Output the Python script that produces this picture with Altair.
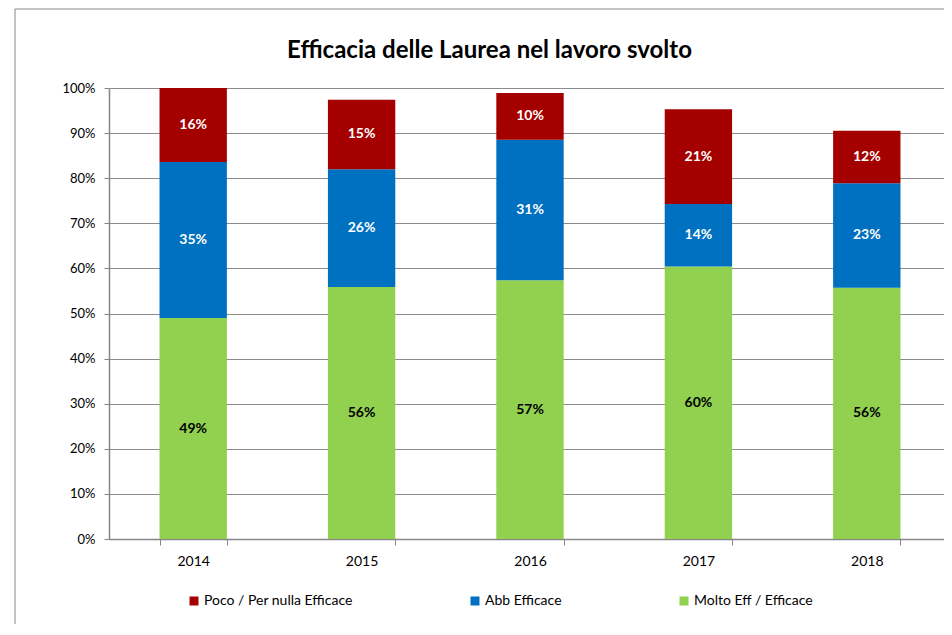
import altair as alt
import pandas as pd

years = ["2014", "2015", "2016", "2017", "2018"]
molto = [49.0, 55.9, 57.4, 60.4, 55.7]
abb = [34.6, 26.1, 31.1, 13.9, 23.2]
poco = [16.4, 15.4, 10.4, 21.0, 11.6]

series_names = ["Poco / Per nulla Efficace", "Abb Efficace", "Molto Eff / Efficace"]
series_colors = ["#A50000", "#0070C0", "#92D050"]

rows = []
for i, y in enumerate(years):
    for order, (name, vals) in enumerate(
        [("Molto Eff / Efficace", molto), ("Abb Efficace", abb), ("Poco / Per nulla Efficace", poco)]
    ):
        rows.append({"year": y, "series": name, "value": vals[i], "ord": order})
df = pd.DataFrame(rows)

FONT = "Lato"

base = (
    alt.Chart(df)
    .transform_stack(stack="value", groupby=["year"], sort=[alt.SortField("ord")], as_=["v0", "v1"])
    .transform_calculate(mid="(datum.v0 + datum.v1) / 2", label="round(datum.value) + '%'")
)

x_scale = alt.Scale(paddingInner=0.6, paddingOuter=0.3, range=[0, 842])

x_enc = alt.X(
    "year:N",
    title=None,
    sort=years,
    scale=x_scale,
    axis=alt.Axis(
        labelAngle=0, tickBand="extent", ticks=True, tickSize=6, tickColor="#868686",
        domainColor="#868686", domainWidth=1.5, labelFontSize=14, labelFont=FONT,
        labelPadding=9, labelColor="#000000", grid=False,
    ),
)

bars = base.mark_bar().encode(
    x=x_enc,
    y=alt.Y(
        "v0:Q",
        title=None,
        scale=alt.Scale(domain=[0, 100], nice=False),
        axis=alt.Axis(
            values=list(range(0, 101, 10)), labelExpr="datum.value + '%'",
            gridColor="#8c8c8c", gridWidth=1, domainColor="#868686", domainWidth=1.5,
            tickColor="#868686", tickSize=5, labelFontSize=13, labelFont=FONT,
            labelPadding=9, labelColor="#000000",
        ),
    ),
    y2="v1:Q",
    color=alt.Color(
        "series:N",
        scale=alt.Scale(domain=series_names, range=series_colors),
        legend=alt.Legend(
            title=None, orient="none", direction="horizontal", columns=3,
            legendX=78, legendY=506, symbolType="square", symbolSize=81,
            symbolStrokeWidth=0, labelFontSize=14, labelFont=FONT, columnPadding=115,
            labelOffset=3, padding=0, labelColor="#000000",
        ),
    ),
)

labels = base.mark_text(fontWeight="bold", fontSize=14, font=FONT).encode(
    x=alt.X("year:N", sort=years),
    y=alt.Y("mid:Q"),
    text="label:N",
    color=alt.condition(
        alt.datum.series == "Molto Eff / Efficace", alt.value("#000000"), alt.value("#FFFFFF")
    ),
)

frame = (
    alt.Chart(pd.DataFrame({"a": [0]}))
    .mark_rect(filled=False, stroke="#888888", strokeWidth=1)
    .encode(x=alt.value(-94), x2=alt.value(860), y=alt.value(-79), y2=alt.value(560))
)

chart = (
    alt.layer(frame, bars, labels)
    .properties(
        width=835,
        height=451,
        autosize=alt.AutoSizeParams(type="none"),
        padding={"left": 101, "top": 80, "right": 0, "bottom": 85},
        title=alt.TitleParams(
            "Efficacia delle Laurea nel lavoro svolto", fontSize=24, font=FONT,
            fontWeight="bold", anchor="middle", frame="group", dx=-37, dy=80, offset=26,
            color="#000000",
        ),
    )
    .configure_view(stroke=None)
)

chart.save("out.html", embed_options={"renderer": "svg", "actions": False})
